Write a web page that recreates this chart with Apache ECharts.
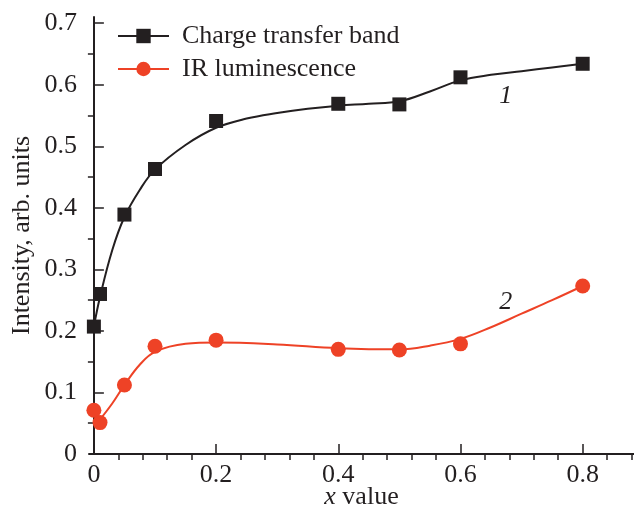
<!DOCTYPE html>
<html>
<head>
<meta charset="utf-8">
<script src="https://cdn.jsdelivr.net/npm/echarts@6/dist/echarts.min.js"></script>
<style>
  html, body { margin: 0; padding: 0; background: #fff; }
  #chart { width: 634px; height: 510px; }
</style>
</head>
<body>
<div id="chart"></div>
<script>
// Measured points
const xValues = [0, 0.01, 0.05, 0.1, 0.2, 0.4, 0.5, 0.6, 0.8];
const chargeTransfer = [0.207, 0.26, 0.389, 0.463, 0.541, 0.569, 0.568, 0.612, 0.634];
const irLuminescence = [0.071, 0.051, 0.112, 0.175, 0.185, 0.170, 0.169, 0.179, 0.273];

// Smoothed guide curves through the data
const fit1X = [0, 0.01, 0.03, 0.05, 0.075, 0.1, 0.15, 0.2, 0.25, 0.3, 0.35, 0.4, 0.45, 0.5, 0.55, 0.6, 0.65, 0.7, 0.75, 0.8];
const fit1Y = [0.207, 0.255, 0.331, 0.385, 0.429, 0.462, 0.502, 0.530, 0.545, 0.554, 0.561, 0.566, 0.569, 0.573, 0.589, 0.607, 0.616, 0.622, 0.628, 0.634];
const fit2X = [0.01, 0.03, 0.05, 0.075, 0.1, 0.15, 0.2, 0.3, 0.4, 0.5, 0.55, 0.6, 0.65, 0.7, 0.75, 0.8];
const fit2Y = [0.056, 0.082, 0.112, 0.145, 0.166, 0.179, 0.181, 0.178, 0.172, 0.170, 0.176, 0.187, 0.206, 0.228, 0.250, 0.273];

// Axis ticks
const xMajorTicks = [0, 0.2, 0.4, 0.6, 0.8];
const xMinorTicks = [0.04, 0.08, 0.12, 0.16, 0.24, 0.28, 0.32, 0.36, 0.44, 0.48, 0.52, 0.56, 0.64, 0.68, 0.72, 0.76, 0.84, 0.88];
const yMajorTicks = [0, 0.1, 0.2, 0.3, 0.4, 0.5, 0.6, 0.7];
const yMinorTicks = [0.05, 0.15, 0.25, 0.35, 0.45, 0.55, 0.65];

// Curve numbers
const curveTags = [
  { text: '1', x: 0.674, y: 0.581 },
  { text: '2', x: 0.674, y: 0.246 }
];

const names = ['Charge transfer band', 'IR luminescence'];
const BLACK = '#231f20';
const RED = '#ee4226';
const FONT = 'Liberation Serif';

const zip = (a, b) => a.map((v, i) => [v, b[i]]);

const chart = echarts.init(document.getElementById('chart'), null, { renderer: 'canvas' });

const xBase = { type: 'value', min: -0.008, max: 0.884, gridIndex: 0 };
const yBase = { type: 'value', min: 0, max: 0.71, gridIndex: 0 };

chart.setOption({
  animation: false,
  backgroundColor: '#fff',
  textStyle: { fontFamily: FONT },
  grid: { left: 89, right: 0, top: 17, bottom: 56, outerBoundsMode: 'none', containLabel: false },
  legend: {
    orient: 'vertical',
    left: 117,
    top: 23,
    padding: 0,
    itemWidth: 51,
    itemHeight: 18,
    itemGap: 7,
    data: names,
    textStyle: { fontFamily: FONT, fontSize: 26, color: BLACK, lineHeight: 26, padding: [0, 0, 0, 8] },
    lineStyle: { opacity: 1, width: 2 },
    selectedMode: false
  },
  xAxis: [
    Object.assign({}, xBase, {
      name: '{i|x} value',
      nameLocation: 'middle',
      nameGap: 30,
      nameMoveOverlap: false,
      nameTextStyle: { fontFamily: FONT, fontSize: 26, color: BLACK, lineHeight: 26,
        rich: { i: { fontFamily: FONT, fontSize: 26, lineHeight: 26, fontStyle: 'italic', color: BLACK } } },
      axisLine: { show: true, lineStyle: { color: BLACK, width: 2 } },
      axisTick: { show: true, inside: true, length: 10, customValues: xMajorTicks, lineStyle: { color: BLACK, width: 1.5 } },
      axisLabel: { show: true, customValues: xMajorTicks, margin: 8, fontFamily: FONT, fontSize: 26, color: BLACK,
        formatter: v => (v === 0 ? '0' : String(v)) },
      splitLine: { show: false }
    }),
    Object.assign({}, xBase, {
      axisLine: { show: false },
      axisTick: { show: true, inside: true, length: 6, customValues: xMinorTicks, lineStyle: { color: BLACK, width: 1.5 } },
      axisLabel: { show: false },
      splitLine: { show: false }
    })
  ],
  yAxis: [
    Object.assign({}, yBase, {
      name: 'Intensity, arb. units',
      nameLocation: 'middle',
      nameGap: 54,
      nameMoveOverlap: false,
      nameTextStyle: { fontFamily: FONT, fontSize: 26, color: BLACK, lineHeight: 26 },
      axisLine: { show: true, lineStyle: { color: BLACK, width: 2 } },
      axisTick: { show: true, inside: true, length: 10, customValues: yMajorTicks, lineStyle: { color: BLACK, width: 1.5 } },
      axisLabel: { show: true, customValues: yMajorTicks, margin: 12, fontFamily: FONT, fontSize: 26, color: BLACK,
        formatter: v => (v === 0 ? '0' : String(v)) },
      splitLine: { show: false }
    }),
    Object.assign({}, yBase, {
      axisLine: { show: false },
      axisTick: { show: true, inside: true, length: 6, customValues: yMinorTicks, lineStyle: { color: BLACK, width: 1.5 } },
      axisLabel: { show: false },
      splitLine: { show: false }
    })
  ],
  series: [
    {
      type: 'line', name: 'fit-1', data: zip(fit1X, fit1Y), smooth: 0.4,
      showSymbol: false, symbol: 'none', silent: true, z: 2,
      lineStyle: { color: BLACK, width: 2 }
    },
    {
      type: 'line', name: 'fit-2', data: zip(fit2X, fit2Y), smooth: 0.4,
      showSymbol: false, symbol: 'none', silent: true, z: 2,
      lineStyle: { color: RED, width: 2 }
    },
    {
      type: 'line', name: names[0], data: zip(xValues, chargeTransfer),
      symbol: 'rect', symbolSize: 14, showAllSymbol: true, z: 3,
      itemStyle: { color: BLACK },
      lineStyle: { color: BLACK, width: 2, opacity: 0 }
    },
    {
      type: 'line', name: names[1], data: zip(xValues, irLuminescence),
      symbol: 'circle', symbolSize: 15, showAllSymbol: true, z: 3,
      itemStyle: { color: RED },
      lineStyle: { color: RED, width: 2, opacity: 0 }
    },
    {
      type: 'scatter', name: 'tags', silent: true, symbolSize: 0, z: 4,
      itemStyle: { opacity: 1, color: BLACK },
      data: curveTags.map(t => ({ value: [t.x, t.y], label: { formatter: t.text } })),
      label: { show: true, position: 'inside', fontFamily: FONT, fontStyle: 'italic', fontSize: 26,
        color: BLACK, opacity: 1, textBorderWidth: 0 }
    }
  ]
});
</script>
</body>
</html>
